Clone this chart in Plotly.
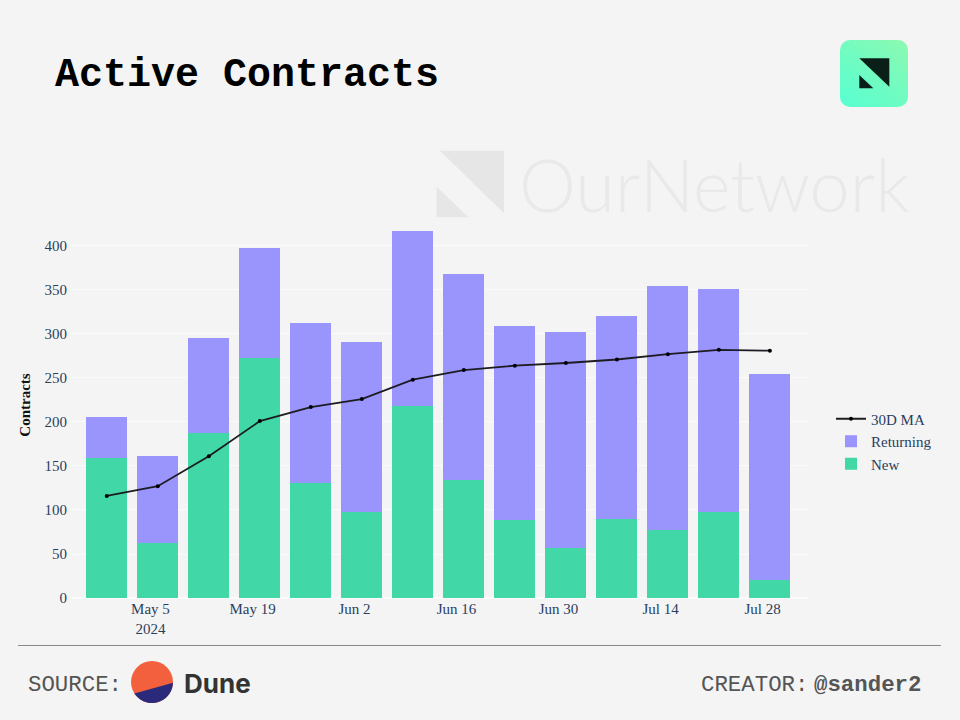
import math
import urllib.parse
import plotly.graph_objects as go

# ---- data ----
weeks = ["2024-04-29", "2024-05-06", "2024-05-13", "2024-05-20", "2024-05-27", "2024-06-03", "2024-06-10",
         "2024-06-17", "2024-06-24", "2024-07-01", "2024-07-08", "2024-07-15", "2024-07-22", "2024-07-29"]
new_contracts = [159, 63, 187, 273, 131, 98, 218, 134, 89, 57, 90, 77, 98, 21]
returning_contracts = [47, 98, 108, 125, 182, 193, 199, 234, 220, 245, 231, 277, 253, 234]
ma_30d = [116, 127, 161, 201, 217, 226, 248, 259, 264, 267, 271, 277, 282, 281]
x_tick_dates = ["2024-05-05", "2024-05-19", "2024-06-02", "2024-06-16", "2024-06-30", "2024-07-14", "2024-07-28"]
x_tick_labels = ["May 5<br>2024", "May 19", "Jun 2", "Jun 16", "Jun 30", "Jul 14", "Jul 28"]
y_ticks = [0, 50, 100, 150, 200, 250, 300, 350, 400]

# ---- layout constants ----
W, H = 960, 720
L, R, T, B = 72, 808, 212, 598
BG = "#f4f4f4"
def px(x): return (x - L) / (R - L)
def py(y): return (B - y) / (B - T)
def poly(points, fill, layer="below"):
    d = "M " + " L ".join(f"{px(a):.5f},{py(b):.5f}" for a, b in points) + " Z"
    return dict(type="path", xref="paper", yref="paper", path=d, fillcolor=fill,
                line=dict(width=0), layer=layer)
def text(x, y, s, size, color, family, anchor="left", weight=None):
    return dict(xref="paper", yref="paper", x=px(x), y=py(y), text=s, showarrow=False,
                xanchor=anchor, yanchor="middle", borderpad=0,
                font=dict(size=size, color=color, family=family, weight=weight))

fig = go.Figure()
fig.add_bar(x=weeks, y=new_contracts, name="New", marker=dict(color="#41d7a6", line_width=0))
fig.add_bar(x=weeks, y=returning_contracts, name="Returning", marker=dict(color="#9a94fd", line_width=0))
fig.add_scatter(x=weeks, y=ma_30d, name="30D MA", mode="lines+markers",
                line=dict(color="#1c1c22", width=1.8), marker=dict(color="#000000", size=4))

shapes = [
    poly([(440, 150.7), (504, 150.7), (504, 213.3)], "#e6e6e6"),
    poly([(436.7, 186.7), (436.7, 217.3), (468.3, 217.3)], "#e6e6e6"),
    poly([(859.3, 58.3), (889.3, 58.3), (889.3, 86.7)], "#0a1f18", "above"),
    poly([(859.3, 75), (859.3, 88.3), (873.3, 88.3)], "#0a1f18", "above"),
    dict(type="line", xref="paper", yref="paper", x0=px(18), x1=px(941), y0=py(645.5), y1=py(645.5),
         line=dict(color="#8a8a8a", width=1)),
    dict(type="circle", xref="paper", yref="paper", x0=px(131), x1=px(173), y0=py(703), y1=py(661),
         fillcolor="#f3603d", line_width=0, layer="above"),
]
# navy lower segment of the Dune logo
cx, cy, r = 152, 682, 21
a0, a1 = math.radians(2), math.radians(147)
seg = [(cx + r * math.cos(a0 + (a1 - a0) * i / 40), cy + r * math.sin(a0 + (a1 - a0) * i / 40)) for i in range(41)]
shapes.append(poly(seg, "#2b2a7a", "above"))

annotations = [
    text(54, 75.5, "Active Contracts", 40, "#000000", "Liberation Mono", weight=700),
    text(518, 184, "OurNetwork", 72, "#e9e9e9", "Lato", weight=300),
    text(27, 685, "SOURCE:", 22.4, "#555555", "Liberation Mono"),
    text(183, 683, "Dune", 26, "#333333", "Inter", weight=700),
    text(700, 685, "CREATOR:", 22.4, "#555555", "Liberation Mono"),
    text(813, 685, "@sander2", 22.4, "#555555", "Liberation Mono", weight=700),
]

svg = ("<svg xmlns='http://www.w3.org/2000/svg' width='68' height='67'><defs>"
       "<linearGradient id='g' x1='1' y1='0' x2='0.2' y2='1'><stop offset='0' stop-color='#8cf9b0'/>"
       "<stop offset='1' stop-color='#5bfecf'/></linearGradient></defs>"
       "<rect width='68' height='67' rx='10' fill='url(#g)'/></svg>")
images = [dict(source="data:image/svg+xml," + urllib.parse.quote(svg), xref="paper", yref="paper",
               x=px(840), y=py(40), sizex=68 / (R - L), sizey=67 / (B - T),
               xanchor="left", yanchor="top", sizing="stretch", layer="below")]

fig.update_layout(
    width=W, height=H, autosize=False,
    margin=dict(l=L, r=W - R, t=T, b=H - B, autoexpand=False),
    paper_bgcolor=BG, plot_bgcolor=BG,
    barmode="stack", bargap=0.2,
    font=dict(family="Liberation Serif", size=15, color="#2a3f5f"),
    legend=dict(x=px(831), y=py(402.5), xanchor="left", yanchor="top", traceorder="reversed",
                bgcolor="rgba(0,0,0,0)", font=dict(size=15), itemwidth=30),
    xaxis=dict(type="date", range=["2024-04-24 05:30", "2024-08-03 05:30"], tickmode="array",
               tickvals=x_tick_dates, ticktext=x_tick_labels, showgrid=False, zeroline=False, ticks=""),
    yaxis=dict(range=[0, 438.6], tickmode="array", tickvals=y_ticks, gridcolor="#fbfbfb", gridwidth=1,
               zeroline=True, zerolinecolor="#fbfbfb", zerolinewidth=2, ticks="", ticklabelstandoff=4,
               title=dict(text="<b>Contracts</b>", font=dict(size=15, color="#111111"), standoff=10)),
    shapes=shapes, annotations=annotations, images=images,
    showlegend=True,
)

fig.write_html("out.html", config={"displayModeBar": False},
               post_script=f"document.body.style.margin='0';document.body.style.background='{BG}';")
